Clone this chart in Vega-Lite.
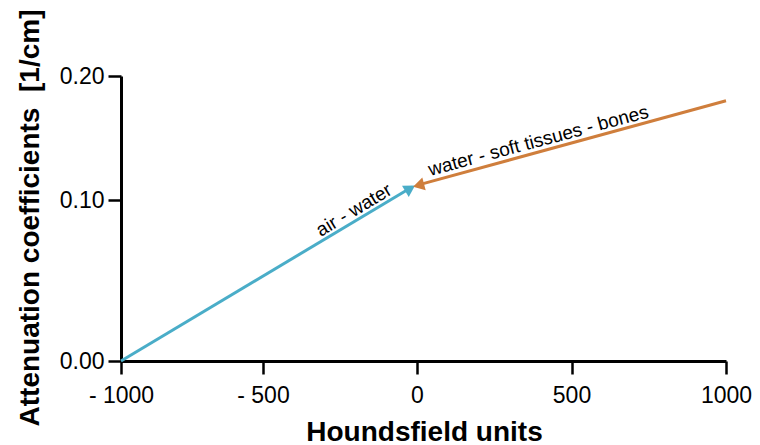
{
  "$schema": "https://vega.github.io/schema/vega-lite/v6.json",
  "width": 605,
  "height": 285,
  "autosize": "none",
  "padding": {"left": 121, "top": 76, "right": 34, "bottom": 84},
  "background": "white",
  "config": {
    "view": {"stroke": null},
    "font": "Liberation Sans",
    "axis": {
      "grid": false,
      "domainColor": "black",
      "domainWidth": 3,
      "tickColor": "black",
      "tickWidth": 2.5,
      "tickSize": 13,
      "labelFont": "Liberation Sans",
      "labelFontSize": 23,
      "labelColor": "black",
      "labelFlush": false,
      "labelOverlap": false,
      "titleFont": "Liberation Sans",
      "titleFontSize": 28,
      "titleFontWeight": "bold",
      "titleColor": "black"
    }
  },
  "datasets": {
    "lines": [
      {"hu": -1000, "mu": 0, "seg": "air - water"},
      {"hu": -16, "mu": 0.1105, "seg": "air - water"},
      {"hu": 2, "mu": 0.112, "seg": "water - soft tissues - bones"},
      {"hu": 1000, "mu": 0.18, "seg": "water - soft tissues - bones"}
    ],
    "labels": [
      {"hu": -188, "mu": 0.0884, "seg": "air - water"},
      {"hu": 402, "mu": 0.1392, "seg": "water - soft tissues - bones"}
    ],
    "heads": [
      {"hu": -22, "mu": 0.1093, "seg": "air - water"},
      {"hu": 5, "mu": 0.1118, "seg": "water - soft tissues - bones"}
    ]
  },
  "layer": [
    {
      "data": {"name": "lines"},
      "mark": {"type": "line", "strokeWidth": 3},
      "encoding": {
        "x": {
          "field": "hu", "type": "quantitative",
          "scale": {"domain": [-1000, -500, 0, 1000], "range": [0, 142, 296, 605], "nice": false, "zero": false},
          "axis": {
            "values": [-1000, -500, 0, 500, 1000],
            "labelExpr": "datum.value < 0 ? '- ' + abs(datum.value) : '' + datum.value",
            "labelBaseline": "alphabetic",
            "labelPadding": 28,
            "title": "Houndsfield units",
            "titleX": 303,
            "titleY": 79,
            "titleBaseline": "alphabetic",
            "titleAlign": "center"
          }
        },
        "y": {
          "field": "mu", "type": "quantitative",
          "scale": {"domain": [0, 0.1, 0.2], "range": [285, 124, 0], "nice": false, "zero": false},
          "axis": {
            "values": [0, 0.1, 0.2],
            "format": ".2f",
            "labelPadding": 4,
            "title": "Attenuation coefficients \u00a0[1/cm]",
            "titleAngle": -90,
            "titleX": -83,
            "titleY": 141.5,
            "titleBaseline": "alphabetic",
            "titleAlign": "center"
          }
        },
        "color": {
          "field": "seg", "type": "nominal",
          "scale": {"domain": ["air - water", "water - soft tissues - bones"], "range": ["#4aadc8", "#cf7e3c"]},
          "legend": null
        }
      }
    },
    {
      "data": {"name": "heads"},
      "transform": [{"filter": "datum.seg == 'air - water'"}],
      "mark": {"type": "point", "shape": "triangle-right", "filled": true, "opacity": 1, "size": 170, "angle": -31, "color": "#4aadc8"},
      "encoding": {
        "x": {"field": "hu", "type": "quantitative"},
        "y": {"field": "mu", "type": "quantitative"}
      }
    },
    {
      "data": {"name": "heads"},
      "transform": [{"filter": "datum.seg != 'air - water'"}],
      "mark": {"type": "point", "shape": "triangle-left", "filled": true, "opacity": 1, "size": 170, "angle": -15, "color": "#cf7e3c"},
      "encoding": {
        "x": {"field": "hu", "type": "quantitative"},
        "y": {"field": "mu", "type": "quantitative"}
      }
    },
    {
      "data": {"name": "labels"},
      "transform": [{"filter": "datum.seg == 'air - water'"}],
      "mark": {"type": "text", "font": "Liberation Sans", "fontSize": 19, "angle": -31, "align": "center", "baseline": "alphabetic", "dy": -4, "color": "black"},
      "encoding": {
        "x": {"field": "hu", "type": "quantitative"},
        "y": {"field": "mu", "type": "quantitative"},
        "text": {"field": "seg"}
      }
    },
    {
      "data": {"name": "labels"},
      "transform": [{"filter": "datum.seg != 'air - water'"}],
      "mark": {"type": "text", "font": "Liberation Sans", "fontSize": 19, "angle": -15, "align": "center", "baseline": "alphabetic", "dy": -5, "color": "black"},
      "encoding": {
        "x": {"field": "hu", "type": "quantitative"},
        "y": {"field": "mu", "type": "quantitative"},
        "text": {"field": "seg"}
      }
    }
  ]
}
